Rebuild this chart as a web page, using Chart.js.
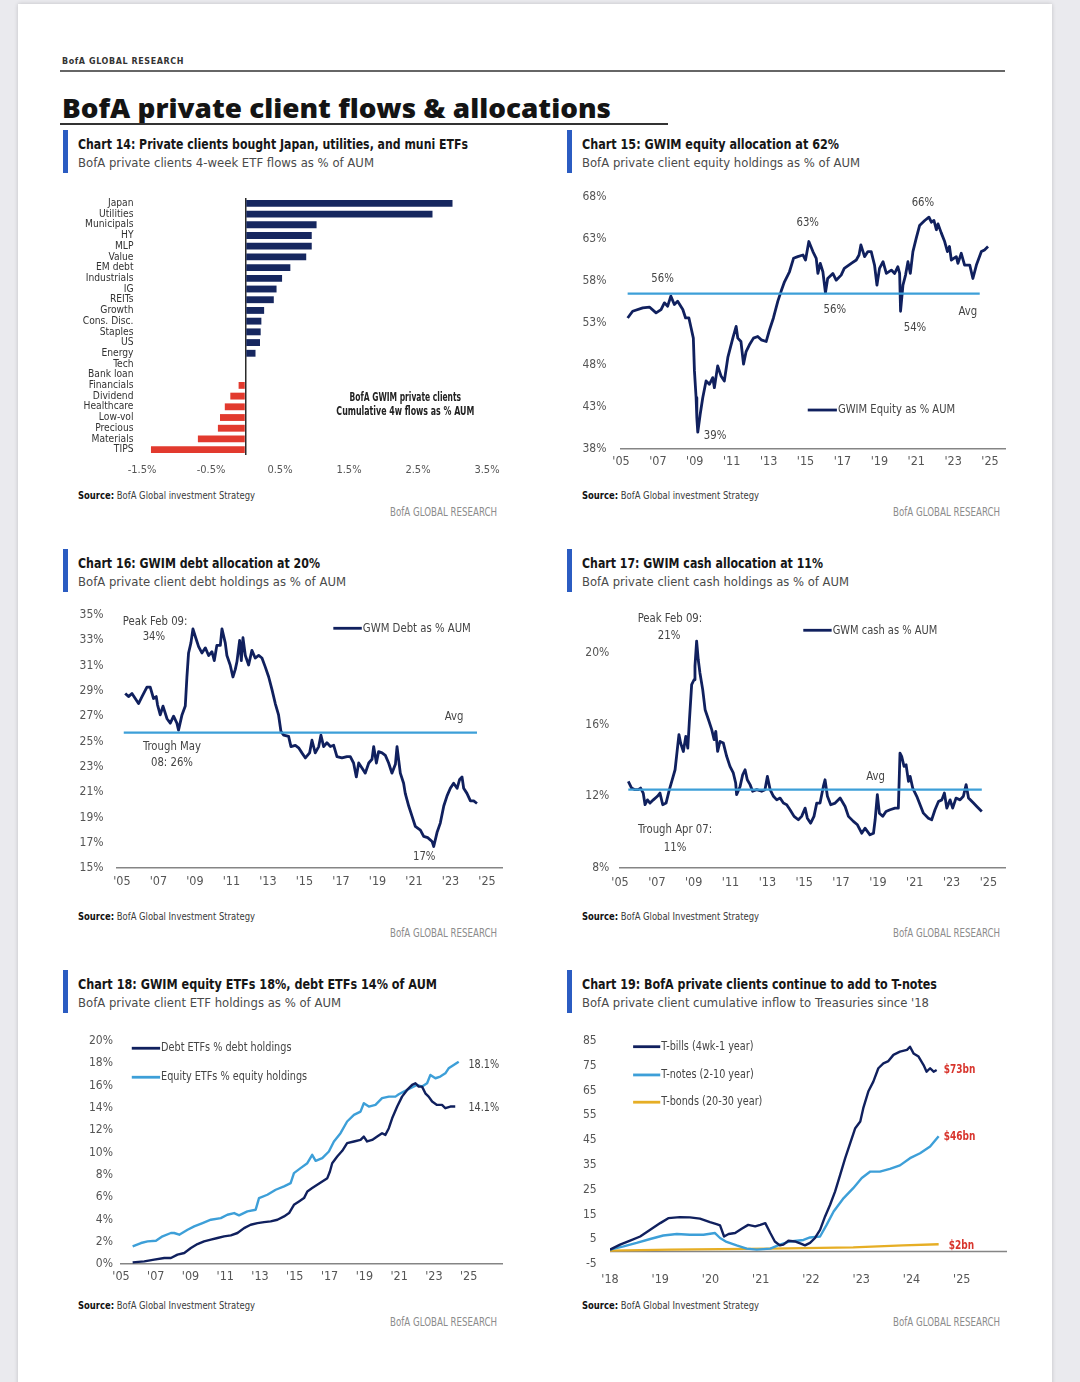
<!DOCTYPE html>
<html><head><meta charset="utf-8"><title>BofA private client flows &amp; allocations</title>
<script src="https://cdn.jsdelivr.net/npm/chart.js@4.4.1/dist/chart.umd.min.js"></script>
<style>
html,body{margin:0;padding:0}
body{width:1080px;height:1382px;position:relative;overflow:hidden;background:#eaeaee}
#page{position:absolute;left:18px;top:4px;width:1034px;height:1390px;background:#fff;box-shadow:0 0 4px rgba(0,0,0,.18)}
.t{position:absolute;white-space:nowrap;line-height:1;transform-origin:0 0;font-family:"Liberation Sans Narrow","DejaVu Sans Condensed",sans-serif}
.ct{font-weight:bold;font-size:14px;color:#161616}
.cs{font-size:13px;color:#4a4a4a}
.src{font-size:11px;color:#3a3a3a}
.src b{color:#111}
.ft{font-size:11.5px;color:#8c8c8c}
.bar{position:absolute;width:5px;height:43px;background:#2b5cc2}
.cw{position:absolute}
.rule{position:absolute}
</style></head><body>
<div id="page"></div>

<div class="t" data-w="122" style="left:62px;top:56.5px;font:bold 8px 'DejaVu Sans',sans-serif;letter-spacing:.6px;color:#333">BofA GLOBAL RESEARCH</div>
<div class="rule" style="left:60px;top:70.3px;width:945px;height:1.5px;background:#666"></div>
<div class="t" data-w="549" style="left:62px;top:88.5px;font:800 27px 'Open Sans',sans-serif;color:#141414">BofA private client flows &amp; allocations</div>
<div class="rule" style="left:60px;top:123.3px;width:608px;height:2px;background:#333"></div>

<!-- Row 1 -->
<div class="bar" style="left:63px;top:130px"></div>
<div class="t ct" data-w="390" style="left:78px;top:137.1px">Chart 14: Private clients bought Japan, utilities, and muni ETFs</div>
<div class="t cs" data-w="296" style="left:78px;top:156px">BofA private clients 4-week ETF flows as % of AUM</div>
<div class="bar" style="left:567px;top:130px"></div>
<div class="t ct" data-w="257" style="left:582px;top:137.1px">Chart 15: GWIM equity allocation at 62%</div>
<div class="t cs" data-w="278" style="left:582px;top:156px">BofA private client equity holdings as % of AUM</div>

<div class="t src" data-w="177" style="left:78px;top:490px"><b>Source:</b> BofA Global investment Strategy</div>
<div class="t ft" data-w="107" data-r="497" style="left:390px;top:507px">BofA GLOBAL RESEARCH</div>
<div class="t src" data-w="177" style="left:582px;top:490px"><b>Source:</b> BofA Global investment Strategy</div>
<div class="t ft" data-w="107" data-r="1000" style="left:893px;top:507px">BofA GLOBAL RESEARCH</div>

<!-- Row 2 -->
<div class="bar" style="left:63px;top:549px"></div>
<div class="t ct" data-w="242" style="left:78px;top:555.6px">Chart 16: GWIM debt allocation at 20%</div>
<div class="t cs" data-w="268" style="left:78px;top:575px">BofA private client debt holdings as % of AUM</div>
<div class="bar" style="left:567px;top:549px"></div>
<div class="t ct" data-w="241" style="left:582px;top:555.6px">Chart 17: GWIM cash allocation at 11%</div>
<div class="t cs" data-w="267" style="left:582px;top:575px">BofA private client cash holdings as % of AUM</div>

<div class="t src" data-w="177" style="left:78px;top:911px"><b>Source:</b> BofA Global Investment Strategy</div>
<div class="t ft" data-w="107" data-r="497" style="left:390px;top:928px">BofA GLOBAL RESEARCH</div>
<div class="t src" data-w="177" style="left:582px;top:911px"><b>Source:</b> BofA Global Investment Strategy</div>
<div class="t ft" data-w="107" data-r="1000" style="left:893px;top:928px">BofA GLOBAL RESEARCH</div>

<!-- Row 3 -->
<div class="bar" style="left:63px;top:970px"></div>
<div class="t ct" data-w="359" style="left:78px;top:977.1px">Chart 18: GWIM equity ETFs 18%, debt ETFs 14% of AUM</div>
<div class="t cs" data-w="263" style="left:78px;top:996px">BofA private client ETF holdings as % of AUM</div>
<div class="bar" style="left:567px;top:970px"></div>
<div class="t ct" data-w="355" style="left:582px;top:977.1px">Chart 19: BofA private clients continue to add to T-notes</div>
<div class="t cs" data-w="347" style="left:582px;top:996px">BofA private client cumulative inflow to Treasuries since '18</div>

<div class="t src" data-w="177" style="left:78px;top:1300.2px"><b>Source:</b> BofA Global Investment Strategy</div>
<div class="t ft" data-w="107" data-r="497" style="left:390px;top:1317px">BofA GLOBAL RESEARCH</div>
<div class="t src" data-w="177" style="left:582px;top:1300.2px"><b>Source:</b> BofA Global Investment Strategy</div>
<div class="t ft" data-w="107" data-r="1000" style="left:893px;top:1317px">BofA GLOBAL RESEARCH</div>

<!-- Chart canvases -->
<div class="cw" style="left:72px;top:188px;width:430px;height:295px"><canvas id="c14"></canvas></div>
<div class="cw" style="left:576px;top:185px;width:439px;height:292px"><canvas id="c15"></canvas></div>
<div class="cw" style="left:72px;top:603px;width:440px;height:293px"><canvas id="c16"></canvas></div>
<div class="cw" style="left:575px;top:605px;width:440px;height:291px"><canvas id="c17"></canvas></div>
<div class="cw" style="left:76px;top:1029px;width:436px;height:263px"><canvas id="c18"></canvas></div>
<div class="cw" style="left:565px;top:1029px;width:452px;height:263px"><canvas id="c19"></canvas></div>

<script>
// ---------------- DATA ----------------
// Chart 14
const flowCategories = ['Japan','Utilities','Municipals','HY','MLP','Value','EM debt','Industrials','IG','REITs','Growth','Cons. Disc.','Staples','US','Energy','Tech','Bank loan','Financials','Dividend','Healthcare','Low-vol','Precious','Materials','TIPS'];
const flowValues = [3.0,2.71,1.03,0.96,0.96,0.88,0.65,0.53,0.45,0.41,0.27,0.23,0.22,0.21,0.145,0,0,-0.10,-0.22,-0.30,-0.37,-0.40,-0.69,-1.37];
const flowTickValues = [-1.5,-0.5,0.5,1.5,2.5,3.5];
const flowTickLabels = ['-1.5%','-0.5%','0.5%','1.5%','2.5%','3.5%'];

// Shared year ticks
const oddYearTicks = [2005,2007,2009,2011,2013,2015,2017,2019,2021,2023,2025];
const oddYearLabels = ["'05","'07","'09","'11","'13","'15","'17","'19","'21","'23","'25"];

// Chart 15: equity % AUM
const equityPct = [[2005.36,53.6],[2005.63,54.4],[2006.18,54.8],[2006.54,54.9],[2006.9,54.2],[2007.17,54.6],[2007.35,55.4],[2007.53,55.0],[2007.7,56.2],[2007.89,55.2],[2008.07,55.6],[2008.35,54.6],[2008.5,53.6],[2008.68,53.6],[2008.8,52.4],[2008.92,51.2],[2008.98,47.3],[2009.07,44.1],[2009.11,41.7],[2009.16,40.0],[2009.29,42.1],[2009.43,44.1],[2009.61,46.1],[2009.79,45.7],[2009.97,46.5],[2010.06,45.3],[2010.24,47.9],[2010.42,46.7],[2010.6,46.1],[2010.79,48.9],[2011.06,51.2],[2011.24,52.6],[2011.33,51.2],[2011.5,50.8],[2011.64,48.1],[2011.78,49.6],[2011.96,50.4],[2012.18,51.2],[2012.41,51.4],[2012.6,51.0],[2012.87,50.8],[2013.05,52.2],[2013.26,53.6],[2013.5,55.6],[2013.68,56.8],[2013.86,57.9],[2014.13,59.1],[2014.35,60.7],[2014.58,60.9],[2014.86,61.1],[2015.0,60.5],[2015.18,62.7],[2015.4,61.5],[2015.58,60.7],[2015.67,58.9],[2015.8,60.1],[2015.94,59.1],[2016.08,56.6],[2016.2,58.3],[2016.48,58.9],[2016.66,58.1],[2016.93,58.7],[2017.1,59.5],[2017.48,60.1],[2017.75,60.5],[2017.9,61.1],[2018.0,62.3],[2018.2,60.9],[2018.38,61.5],[2018.56,61.5],[2018.74,59.9],[2018.87,57.5],[2019.01,59.5],[2019.2,60.3],[2019.38,58.9],[2019.65,59.3],[2019.83,58.9],[2020.0,59.7],[2020.1,58.9],[2020.15,54.4],[2020.28,57.5],[2020.42,58.7],[2020.55,60.3],[2020.68,58.9],[2020.82,61.5],[2021.0,63.1],[2021.18,64.6],[2021.46,65.2],[2021.69,65.6],[2021.82,65.0],[2021.96,65.2],[2022.09,64.1],[2022.18,64.8],[2022.36,63.7],[2022.54,62.7],[2022.69,61.5],[2022.8,62.1],[2022.9,60.5],[2023.17,60.9],[2023.26,60.1],[2023.44,61.3],[2023.62,59.9],[2023.9,59.9],[2024.07,58.3],[2024.26,59.9],[2024.53,61.5],[2024.7,61.7],[2024.89,62.1]];
const equityAvg = [[2005.36,56.5],[2024.44,56.5]];
const equityTicks = [38,43,48,53,58,63,68];
const equityTickLabels = ['38%','43%','48%','53%','58%','63%','68%'];

// Chart 16: debt % AUM
const debtPct = [[2005.18,28.8],[2005.36,28.55],[2005.55,28.8],[2005.73,28.4],[2005.91,28.0],[2006.1,28.55],[2006.37,29.3],[2006.55,29.3],[2006.73,28.4],[2006.88,28.55],[2006.95,27.9],[2007.1,27.1],[2007.25,27.8],[2007.47,26.8],[2007.65,26.45],[2007.83,27.0],[2008.01,26.45],[2008.1,25.9],[2008.29,27.1],[2008.47,27.8],[2008.56,30.1],[2008.65,32.0],[2008.78,32.8],[2008.89,33.9],[2009.02,33.3],[2009.2,32.5],[2009.38,32.0],[2009.57,32.4],[2009.75,31.8],[2009.93,32.1],[2010.06,31.4],[2010.2,32.6],[2010.39,32.6],[2010.48,33.9],[2010.66,32.8],[2010.75,31.8],[2010.93,31.05],[2011.08,30.1],[2011.21,30.7],[2011.3,31.3],[2011.45,33.0],[2011.54,31.4],[2011.63,33.2],[2011.76,31.8],[2011.94,31.05],[2012.12,32.2],[2012.3,31.6],[2012.49,31.8],[2012.67,31.6],[2012.85,30.9],[2013.04,30.1],[2013.22,29.1],[2013.4,28.0],[2013.58,27.1],[2013.71,25.8],[2013.86,25.5],[2014.13,25.4],[2014.26,24.6],[2014.5,24.7],[2014.68,24.5],[2014.86,24.1],[2015.05,23.7],[2015.28,24.1],[2015.41,25.1],[2015.59,24.1],[2015.78,24.6],[2015.9,25.5],[2016.05,24.6],[2016.23,24.9],[2016.42,24.6],[2016.6,24.7],[2016.78,23.8],[2017.05,23.7],[2017.33,23.8],[2017.51,23.8],[2017.69,23.3],[2017.84,22.2],[2017.97,23.3],[2018.15,22.9],[2018.33,22.5],[2018.52,23.3],[2018.7,23.6],[2018.79,24.6],[2018.94,23.3],[2019.06,24.2],[2019.25,24.1],[2019.43,23.9],[2019.61,23.3],[2019.79,22.5],[2019.98,23.2],[2020.07,24.6],[2020.25,22.5],[2020.43,21.7],[2020.52,20.9],[2020.71,19.9],[2020.89,19.1],[2021.07,18.3],[2021.35,18.0],[2021.53,17.5],[2021.75,17.4],[2021.99,17.1],[2022.08,16.7],[2022.26,17.8],[2022.44,18.55],[2022.63,19.9],[2022.81,20.7],[2022.99,21.3],[2023.17,21.7],[2023.36,21.3],[2023.5,22.0],[2023.63,22.2],[2023.72,21.3],[2023.9,20.9],[2024.09,20.3],[2024.27,20.3],[2024.45,20.1]];
const debtAvg = [[2005.1,25.7],[2024.45,25.7]];
const debtTicks = [15,17,19,21,23,25,27,29,31,33,35];
const debtTickLabels = ['15%','17%','19%','21%','23%','25%','27%','29%','31%','33%','35%'];

// Chart 17: cash % AUM
const cashPct = [[2005.45,12.83],[2005.63,12.46],[2005.81,12.37],[2005.99,12.37],[2006.12,12.46],[2006.26,12.18],[2006.36,11.53],[2006.49,11.8],[2006.63,11.62],[2006.81,11.8],[2007.03,12.0],[2007.17,12.18],[2007.32,11.53],[2007.5,11.62],[2007.68,12.37],[2007.81,12.83],[2007.99,13.48],[2008.11,14.6],[2008.2,15.44],[2008.29,14.97],[2008.44,14.5],[2008.57,15.34],[2008.68,14.69],[2008.76,16.09],[2008.89,18.23],[2009.02,18.5],[2009.07,19.26],[2009.16,20.65],[2009.25,19.6],[2009.34,18.88],[2009.49,17.95],[2009.62,16.83],[2009.8,16.28],[2009.98,15.72],[2010.11,15.16],[2010.2,15.62],[2010.3,14.5],[2010.43,15.06],[2010.61,14.97],[2010.79,14.23],[2010.97,13.67],[2011.15,13.3],[2011.28,12.74],[2011.33,12.09],[2011.52,12.55],[2011.66,13.2],[2011.79,13.48],[2011.91,12.92],[2012.06,12.65],[2012.2,12.28],[2012.42,12.37],[2012.69,12.28],[2012.87,12.37],[2013.0,13.11],[2013.15,12.37],[2013.33,12.0],[2013.51,11.8],[2013.69,11.9],[2013.87,11.62],[2014.05,11.53],[2014.23,11.25],[2014.45,10.88],[2014.68,10.69],[2014.86,10.88],[2015.05,11.34],[2015.17,10.78],[2015.35,10.5],[2015.53,10.88],[2015.68,11.62],[2015.86,11.62],[2016.04,12.55],[2016.13,12.92],[2016.26,12.0],[2016.44,11.53],[2016.68,11.62],[2016.95,11.9],[2017.22,11.43],[2017.4,10.88],[2017.67,10.6],[2017.89,10.41],[2018.12,9.94],[2018.3,10.22],[2018.57,9.85],[2018.76,9.94],[2018.85,10.69],[2018.97,12.09],[2019.08,11.06],[2019.26,10.88],[2019.44,11.15],[2019.66,11.25],[2019.93,11.34],[2020.11,11.34],[2020.2,14.41],[2020.29,14.23],[2020.42,13.67],[2020.53,13.76],[2020.66,12.83],[2020.75,13.11],[2020.89,12.46],[2021.11,12.0],[2021.29,11.53],[2021.47,11.06],[2021.74,10.78],[2021.92,10.69],[2022.1,11.25],[2022.29,11.71],[2022.47,11.8],[2022.61,12.18],[2022.74,11.34],[2022.92,11.8],[2023.06,11.34],[2023.24,11.9],[2023.46,11.8],[2023.64,12.0],[2023.79,12.65],[2023.92,11.9],[2024.19,11.62],[2024.37,11.43],[2024.64,11.15]];
const cashAvg = [[2005.45,12.37],[2024.64,12.37]];
const cashTicks = [8,12,16,20];
const cashTickLabels = ['8%','12%','16%','20%'];

// Chart 18: ETF share of holdings
const debtEtfPct = [[2005.67,0.15],[2006.34,0.24],[2006.91,0.39],[2007.49,0.54],[2007.87,0.54],[2008.25,0.84],[2008.64,0.99],[2009.02,1.43],[2009.4,1.79],[2009.78,2.03],[2010.17,2.18],[2010.55,2.33],[2010.93,2.48],[2011.32,2.57],[2011.7,2.78],[2012.08,3.22],[2012.46,3.52],[2012.85,3.67],[2013.23,3.76],[2013.61,3.82],[2014.0,3.97],[2014.38,4.27],[2014.67,4.57],[2014.95,5.31],[2015.24,5.61],[2015.53,5.91],[2015.72,6.51],[2016.0,6.81],[2016.29,7.1],[2016.58,7.4],[2016.87,7.7],[2017.02,8.3],[2017.15,9.04],[2017.44,9.64],[2017.73,10.15],[2018.01,10.84],[2018.4,10.99],[2018.78,11.13],[2018.97,11.43],[2019.16,10.99],[2019.45,11.13],[2019.74,11.43],[2020.02,11.73],[2020.21,11.58],[2020.41,12.18],[2020.6,13.07],[2020.89,14.12],[2021.17,15.01],[2021.46,15.61],[2021.75,16.06],[2021.94,16.21],[2022.13,15.91],[2022.32,15.91],[2022.51,15.31],[2022.7,15.01],[2022.9,14.57],[2023.18,14.27],[2023.47,14.27],[2023.66,13.97],[2023.95,14.12],[2024.23,14.12]];
const equityEtfPct = [[2005.67,1.58],[2006.15,1.88],[2006.53,2.03],[2007.01,2.09],[2007.39,2.48],[2007.87,2.78],[2008.06,2.78],[2008.35,2.63],[2008.83,3.07],[2009.21,3.37],[2009.69,3.67],[2010.17,3.97],[2010.74,4.12],[2011.12,4.42],[2011.51,4.57],[2011.79,4.36],[2012.27,4.72],[2012.75,4.87],[2012.94,5.91],[2013.42,6.21],[2013.9,6.66],[2014.38,6.96],[2014.76,7.25],[2014.95,8.15],[2015.33,8.6],[2015.72,9.04],[2016.0,9.79],[2016.2,9.25],[2016.58,9.49],[2016.96,10.09],[2017.25,10.99],[2017.63,11.73],[2018.01,12.78],[2018.4,13.37],[2018.78,13.67],[2018.97,14.42],[2019.26,14.12],[2019.64,14.27],[2020.02,14.87],[2020.41,15.01],[2020.79,15.01],[2020.98,15.22],[2021.27,15.46],[2021.65,15.76],[2022.03,16.06],[2022.32,15.91],[2022.61,16.21],[2022.8,16.96],[2023.09,16.66],[2023.37,16.81],[2023.66,17.1],[2023.85,17.55],[2024.14,17.85],[2024.43,18.15]];
const etfTicks = [0,2,4,6,8,10,12,14,16,18,20];
const etfTickLabels = ['0%','2%','4%','6%','8%','10%','12%','14%','16%','18%','20%'];

// Chart 19: cumulative Treasury inflows ($bn)
const tBills = [[2018.0,0.8],[2018.2,2.8],[2018.4,4.4],[2018.6,6.1],[2018.8,8.8],[2019.0,11.5],[2019.16,13.5],[2019.39,13.9],[2019.59,13.8],[2019.79,13.3],[2019.99,11.9],[2020.12,11.1],[2020.19,10.6],[2020.27,6.1],[2020.36,7.1],[2020.49,7.5],[2020.62,9.2],[2020.75,10.8],[2020.89,10.2],[2020.99,10.8],[2021.09,11.5],[2021.19,7.5],[2021.28,4.1],[2021.38,2.5],[2021.45,2.8],[2021.55,4.4],[2021.68,4.1],[2021.81,3.1],[2021.88,2.5],[2021.98,3.5],[2022.08,5.5],[2022.18,8.8],[2022.28,14.2],[2022.38,18.9],[2022.48,24.3],[2022.58,31.0],[2022.68,37.7],[2022.78,43.8],[2022.88,49.8],[2022.98,52.5],[2023.04,57.9],[2023.14,64.6],[2023.24,68.6],[2023.34,74.0],[2023.44,76.0],[2023.54,76.9],[2023.64,79.4],[2023.77,80.7],[2023.91,81.4],[2023.97,82.7],[2024.04,80.0],[2024.14,78.7],[2024.24,75.3],[2024.3,72.6],[2024.37,74.0],[2024.44,72.6],[2024.5,73.3]];
const tNotes = [[2018.0,0.8],[2018.27,2.1],[2018.53,3.5],[2018.8,5.1],[2019.06,6.5],[2019.33,7.1],[2019.59,6.8],[2019.86,6.8],[2020.09,7.5],[2020.19,5.5],[2020.32,3.9],[2020.52,2.5],[2020.72,1.2],[2020.92,0.8],[2021.19,1.2],[2021.38,2.8],[2021.58,4.1],[2021.85,4.7],[2021.98,5.7],[2022.18,6.1],[2022.31,10.8],[2022.45,16.2],[2022.65,21.6],[2022.84,25.6],[2023.01,29.7],[2023.18,32.3],[2023.37,32.3],[2023.57,33.4],[2023.77,34.8],[2023.97,37.7],[2024.17,39.7],[2024.37,42.4],[2024.54,46.6]];
const tBonds = [[2018.0,0.4],[2019.2,0.8],[2021.19,1.2],[2022.84,1.7],[2023.83,2.5],[2024.54,3.0]];
const zeroLine = [[2018.0,0],[2025.9,0]];
const tsyXTicks = [2018,2019,2020,2021,2022,2023,2024,2025];
const tsyXLabels = ["'18","'19","'20","'21","'22","'23","'24","'25"];
const tsyYTicks = [-5,5,15,25,35,45,55,65,75,85];
const tsyYLabels = ['-5','5','15','25','35','45','55','65','75','85'];

// ---------------- STYLE / HELPERS ----------------
const NARROW = '"Liberation Sans Narrow","DejaVu Sans Condensed",sans-serif';
const NAVY = '#10205e', LIGHT = '#3d9fd8', GOLD = '#e6ae25', RED = '#d8352d', BARNAVY = '#16275f', BARRED = '#e23a2e';
Chart.defaults.font.family = NARROW;
Chart.defaults.color = '#555';

const xy = a => a.map(p => ({x: p[0], y: p[1]}));

// draws text squeezed horizontally by factor sx around its anchor
function drawSqueezed(ctx, text, x, y, align, sx) {
  ctx.save();
  ctx.translate(x, y);
  ctx.scale(sx, 1);
  ctx.textAlign = align;
  ctx.fillText(text, 0, 0);
  ctx.restore();
}

function annot(texts, legends) {
  return {
    id: 'annot',
    afterDatasetsDraw(chart) {
      const {ctx} = chart, sx = chart.scales.x, sy = chart.scales.y;
      ctx.save();
      ctx.textBaseline = 'middle';
      texts.forEach(t => {
        ctx.font = t.font || ('12.5px ' + NARROW);
        ctx.fillStyle = t.color || '#444';
        drawSqueezed(ctx, t.text, sx.getPixelForValue(t.x), sy.getPixelForValue(t.y), t.align || 'center', t.sx || 0.9);
      });
      legends.forEach(l => {
        const x1 = sx.getPixelForValue(l.x1), x2 = sx.getPixelForValue(l.x2), y = sy.getPixelForValue(l.y);
        ctx.strokeStyle = l.color; ctx.lineWidth = 2.8; ctx.lineCap = 'butt';
        ctx.beginPath(); ctx.moveTo(x1, y); ctx.lineTo(x2, y); ctx.stroke();
        ctx.font = '12.5px ' + NARROW; ctx.fillStyle = '#444';
        drawSqueezed(ctx, l.text, x2 + 1, y, 'left', l.sx || 0.87);
      });
      ctx.restore();
    }
  };
}

function lineChart(id, c) {
  return new Chart(document.getElementById(id), {
    type: 'line',
    data: {datasets: c.series.map(s => ({data: xy(s.data), borderColor: s.color, borderWidth: s.width, pointRadius: 0, fill: false, tension: 0, borderJoinStyle: 'round'}))},
    options: {
      responsive: true, maintainAspectRatio: false, animation: false,
      layout: {padding: {top: 12, right: 10, left: 0, bottom: 0}},
      plugins: {legend: {display: false}, tooltip: {enabled: false}},
      scales: {
        x: {
          type: 'linear', min: c.xMin, max: c.xMax,
          grid: {display: false, drawTicks: false},
          border: {display: c.xBorder !== false, color: '#858585', width: 1.5},
          afterBuildTicks: s => { s.ticks = c.xTicks.map(v => ({value: v})); },
          afterFit: s => { s.height = 28; s.paddingLeft = 0; s.paddingRight = 0; },
          ticks: {autoSkip: false, maxRotation: 0, padding: c.xPad, color: '#555', font: {size: 12.5}, callback: (v, i) => c.xLabels[i]}
        },
        y: {
          type: 'linear', min: c.yMin, max: c.yMax,
          grid: {display: false, drawTicks: false},
          border: {display: false},
          afterBuildTicks: s => { s.ticks = c.yTicks.map(v => ({value: v})); },
          afterFit: s => { s.width = 45; s.paddingTop = 0; s.paddingBottom = 0; },
          ticks: {autoSkip: false, padding: c.yPad, color: '#555', font: {size: 12}, callback: (v, i) => c.yLabels[i]}
        }
      }
    },
    plugins: [annot(c.texts || [], c.legends || [])]
  });
}

// ---------------- CHART 14 ----------------
new Chart(document.getElementById('c14'), {
  type: 'bar',
  data: {labels: flowCategories, datasets: [{data: flowValues, backgroundColor: ctx => ctx.raw >= 0 ? BARNAVY : BARRED, categoryPercentage: 1, barPercentage: 0.64}]},
  options: {
    indexAxis: 'y', responsive: true, maintainAspectRatio: false, animation: false,
    layout: {padding: {top: 10, right: 15, left: 0, bottom: 0}},
    plugins: {legend: {display: false}, tooltip: {enabled: false}},
    scales: {
      x: {
        type: 'linear', min: -1.5, max: 3.5,
        grid: {display: true, drawTicks: false, lineWidth: 1.5, color: ctx => (ctx.tick && ctx.tick.value === 0) ? '#2a2a2a' : 'rgba(0,0,0,0)'},
        border: {display: false},
        afterBuildTicks: s => { s.ticks = flowTickValues.concat([0]).sort((a, b) => a - b).map(v => ({value: v})); },
        afterFit: s => { s.height = 28; s.paddingLeft = 0; s.paddingRight = 0; },
        ticks: {autoSkip: false, maxRotation: 0, padding: 9, color: '#555', font: {size: 11},
          callback: v => { const i = flowTickValues.indexOf(v); return i < 0 ? '' : flowTickLabels[i]; }}
      },
      y: {
        type: 'category',
        grid: {display: false, drawTicks: false},
        border: {display: false},
        afterFit: s => { s.width = 70; s.paddingTop = 0; s.paddingBottom = 0; },
        ticks: {autoSkip: false, padding: 8.5, color: '#333', font: {size: 10.2, lineHeight: 1}}
      }
    }
  },
  plugins: [annot([
    {text: 'BofA GWIM private clients', x: 2.316, y: 18.13, font: 'bold 12px ' + NARROW, color: '#222', sx: 0.7},
    {text: 'Cumulative 4w flows as % AUM', x: 2.316, y: 19.48, font: 'bold 12px ' + NARROW, color: '#222', sx: 0.73}
  ], [])]
});

// ---------------- CHART 15 ----------------
lineChart('c15', {
  xMin: 2005, xMax: 2025.81, yMin: 38, yMax: 68,
  xTicks: oddYearTicks, xLabels: oddYearLabels, yTicks: equityTicks, yLabels: equityTickLabels,
  xPad: 5, yPad: 14.5,
  series: [{data: equityAvg, color: LIGHT, width: 2.2}, {data: equityPct, color: NAVY, width: 2.8}],
  texts: [
    {text: '56%', x: 2007.25, y: 58.24}, {text: '63%', x: 2015.12, y: 64.9}, {text: '66%', x: 2021.36, y: 67.29},
    {text: '56%', x: 2016.59, y: 54.55}, {text: '54%', x: 2020.93, y: 52.4}, {text: 'Avg', x: 2023.8, y: 54.3},
    {text: '39%', x: 2010.1, y: 39.58}
  ],
  legends: [{x1: 2015.12, x2: 2016.7, y: 42.64, color: NAVY, text: 'GWIM Equity as % AUM', sx: 0.89}]
});

// ---------------- CHART 16 ----------------
lineChart('c16', {
  xMin: 2004.73, xMax: 2025.82, yMin: 15, yMax: 35,
  xTicks: oddYearTicks, xLabels: oddYearLabels, yTicks: debtTicks, yLabels: debtTickLabels,
  xPad: 6, yPad: 13.4,
  series: [{data: debtAvg, color: LIGHT, width: 2.4}, {data: debtPct, color: NAVY, width: 2.8}],
  texts: [
    {text: 'Peak Feb 09:', x: 2006.82, y: 34.47}, {text: '34%', x: 2006.75, y: 33.29},
    {text: 'Trough May', x: 2007.74, y: 24.6}, {text: '08: 26%', x: 2007.74, y: 23.31},
    {text: 'Avg', x: 2023.2, y: 26.95}, {text: '17%', x: 2021.56, y: 15.87}
  ],
  legends: [{x1: 2016.58, x2: 2018.14, y: 33.95, color: NAVY, text: 'GWM Debt as % AUM', sx: 0.9}]
});

// ---------------- CHART 17 ----------------
lineChart('c17', {
  xMin: 2005, xMax: 2025.9, yMin: 8, yMax: 22,
  xTicks: oddYearTicks, xLabels: oddYearLabels, yTicks: cashTicks, yLabels: cashTickLabels,
  xPad: 7.5, yPad: 10.7,
  series: [{data: cashAvg, color: LIGHT, width: 2.4}, {data: cashPct, color: NAVY, width: 2.8}],
  texts: [
    {text: 'Peak Feb 09:', x: 2007.71, y: 21.9}, {text: '21%', x: 2007.66, y: 20.96},
    {text: 'Trough Apr 07:', x: 2007.99, y: 10.14}, {text: '11%', x: 2007.99, y: 9.12},
    {text: 'Avg', x: 2018.88, y: 13.11}
  ],
  legends: [{x1: 2014.95, x2: 2016.49, y: 21.26, color: NAVY, text: 'GWM cash as % AUM', sx: 0.88}]
});

// ---------------- CHART 18 ----------------
lineChart('c18', {
  xMin: 2005, xMax: 2026.92, yMin: 0, yMax: 20,
  xTicks: oddYearTicks, xLabels: oddYearLabels, yTicks: etfTicks, yLabels: etfTickLabels,
  xPad: 5.5, yPad: 8,
  series: [{data: debtEtfPct, color: NAVY, width: 2.4}, {data: equityEtfPct, color: LIGHT, width: 2.4}],
  texts: [
    {text: '18.1%', x: 2024.99, y: 17.91, align: 'left', sx: 0.86}, {text: '14.1%', x: 2024.99, y: 14.03, align: 'left', sx: 0.86}
  ],
  legends: [
    {x1: 2005.62, x2: 2007.25, y: 19.35, color: NAVY, text: 'Debt ETFs % debt holdings', sx: 0.86},
    {x1: 2005.62, x2: 2007.25, y: 16.75, color: LIGHT, text: 'Equity ETFs % equity holdings', sx: 0.86}
  ]
});

// ---------------- CHART 19 ----------------
lineChart('c19', {
  xMin: 2018, xMax: 2025.9, yMin: -5, yMax: 85, xBorder: false,
  xTicks: tsyXTicks, xLabels: tsyXLabels, yTicks: tsyYTicks, yLabels: tsyYLabels,
  xPad: 8, yPad: 13.3,
  series: [{data: tBills, color: NAVY, width: 2.4}, {data: tNotes, color: LIGHT, width: 2.4}, {data: tBonds, color: GOLD, width: 2.4}, {data: zeroLine, color: '#858585', width: 1.5}],
  texts: [
    {text: '$73bn', x: 2024.64, y: 73.3, align: 'left', color: RED, font: '600 12.5px ' + NARROW, sx: 0.8},
    {text: '$46bn', x: 2024.64, y: 46.4, align: 'left', color: RED, font: '600 12.5px ' + NARROW, sx: 0.8},
    {text: '$2bn', x: 2024.74, y: 2.5, align: 'left', color: RED, font: '600 12.5px ' + NARROW, sx: 0.8}
  ],
  legends: [
    {x1: 2018.46, x2: 2019.0, y: 82.7, color: NAVY, text: 'T-bills (4wk-1 year)', sx: 0.86},
    {x1: 2018.46, x2: 2019.0, y: 71.3, color: LIGHT, text: 'T-notes (2-10 year)', sx: 0.86},
    {x1: 2018.46, x2: 2019.0, y: 60.3, color: GOLD, text: 'T-bonds (20-30 year)', sx: 0.86}
  ]
});

// ---------------- TEXT FITTING ----------------
function fitTexts() {
  document.querySelectorAll('.t[data-w]').forEach(el => {
    el.style.transform = 'none';
    const w = el.getBoundingClientRect().width;
    const target = parseFloat(el.dataset.w);
    if (w > 0) {
      el.style.transform = 'scaleX(' + (target / w) + ')';
      if (el.dataset.r) el.style.left = (parseFloat(el.dataset.r) - target) + 'px';
    }
  });
}
fitTexts();
if (document.fonts && document.fonts.ready) document.fonts.ready.then(fitTexts);
</script>
</body></html>
